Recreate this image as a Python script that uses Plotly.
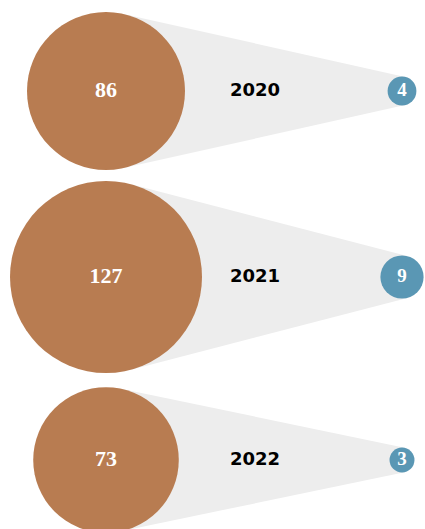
import numpy as np
import plotly.graph_objects as go

# ---- data ----
years = ["2020", "2021", "2022"]
big_values = [86, 127, 73]
small_values = [4, 9, 3]

# ---- styling / layout constants ----
W, H = 425, 529
big_color = "#B87C51"
small_color = "#5A97B4"
cone_color = "#EDEDED"
row_y = [91, 277, 460]
big_x = 106
small_x = 402
year_x = 255
k_big = 79 / np.sqrt(86)     # radius in px per sqrt(value)
k_small = 7.2

big_r = [k_big * np.sqrt(v) for v in big_values]
small_r = [k_small * np.sqrt(v) for v in small_values]

fig = go.Figure()

# cones (external tangents between the two circles)
for y, R, r in zip(row_y, big_r, small_r):
    d = small_x - big_x
    s = (R - r) / d
    c = np.sqrt(1 - s * s)
    xs = [big_x + R * s, small_x + r * s, small_x + r * s, big_x + R * s]
    ys = [y - R * c, y - r * c, y + r * c, y + R * c]
    fig.add_trace(go.Scatter(x=xs, y=ys, fill="toself", fillcolor=cone_color,
                             mode="lines", line=dict(width=0), hoverinfo="skip",
                             showlegend=False))

# big circles
fig.add_trace(go.Scatter(
    x=[big_x] * len(years), y=row_y, mode="markers+text",
    marker=dict(size=[2 * r for r in big_r], color=big_color, line=dict(width=0), opacity=1),
    text=[str(v) for v in big_values], textposition="middle center",
    textfont=dict(family="Liberation Serif", size=22, color="white", weight="bold"),
    hoverinfo="skip", showlegend=False))

# small circles
fig.add_trace(go.Scatter(
    x=[small_x] * len(years), y=row_y, mode="markers+text",
    marker=dict(size=[2 * r for r in small_r], color=small_color, line=dict(width=0), opacity=1),
    text=[str(v) for v in small_values], textposition="middle center",
    textfont=dict(family="Liberation Serif", size=19, color="white", weight="bold"),
    hoverinfo="skip", showlegend=False))

# year labels
fig.add_trace(go.Scatter(
    x=[year_x] * len(years), y=row_y, mode="text",
    text=years, textposition="middle center",
    textfont=dict(family="DejaVu Sans", size=18, color="black", weight="bold"),
    hoverinfo="skip", showlegend=False))

fig.update_layout(
    width=W, height=H,
    margin=dict(l=0, r=0, t=0, b=0),
    paper_bgcolor="white", plot_bgcolor="white",
    xaxis=dict(range=[0, W], visible=False, fixedrange=True),
    yaxis=dict(range=[H, 0], visible=False, fixedrange=True),
    showlegend=False,
)

fig.write_html("out.html", config={"displayModeBar": False},
               post_script="document.body.style.margin='0';document.body.style.overflow='hidden';")
